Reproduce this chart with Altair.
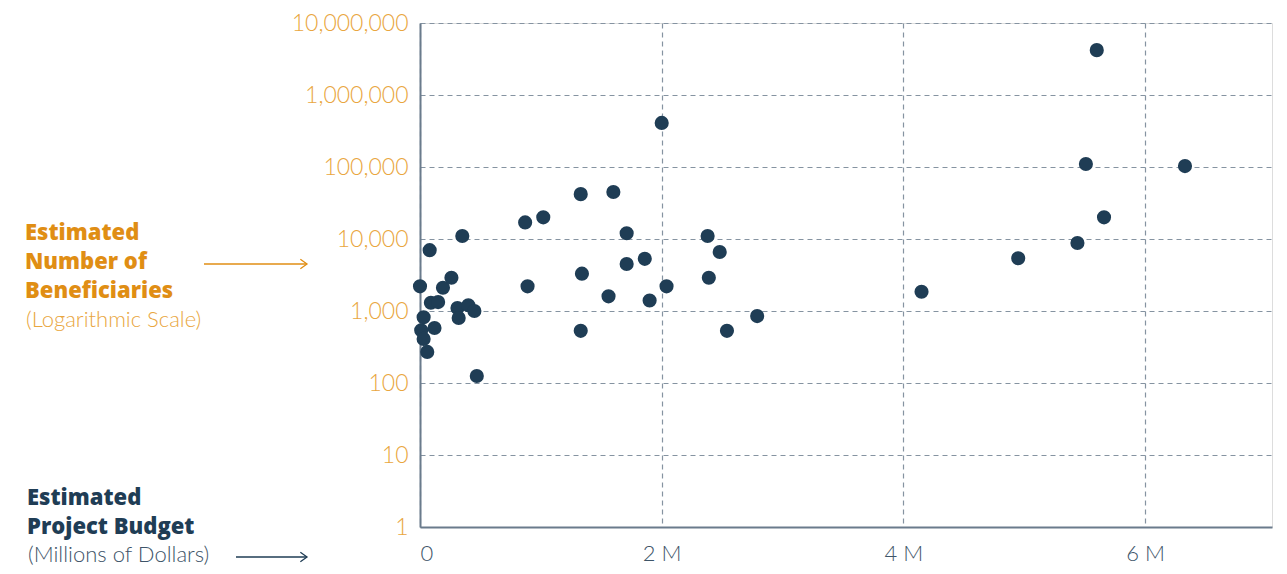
import altair as alt
import pandas as pd

# Estimated project budget (millions of dollars)
budget_m = [
    0.00, 0.08, 0.19, 0.26, 0.35, 0.09, 0.15, 0.31, 0.40, 0.45, 0.32, 0.03,
    0.12, 0.01, 0.03, 0.06, 0.47,
    1.33, 1.60, 0.87, 1.02, 1.71, 2.38, 2.48, 1.71, 1.86, 1.34, 2.39, 0.89,
    2.04, 1.56, 1.90, 2.79, 1.33, 2.54, 2.00,
    5.60, 5.51, 6.33, 5.66, 5.44, 4.95, 4.15,
]
# Estimated number of beneficiaries
beneficiaries = [
    2200, 7000, 2100, 2900, 11000, 1300, 1330, 1100, 1200, 1000, 800, 820,
    580, 540, 410, 270, 125,
    42000, 45000, 17000, 20000, 12000, 11000, 6600, 4500, 5300, 3300, 2900, 2200,
    2200, 1600, 1400, 850, 530, 530, 410000,
    4200000, 110000, 103000, 20000, 8800, 5400, 1850,
]

x_ticks = [0, 2, 4, 6]
y_ticks = [1, 10, 100, 1000, 10000, 100000, 1000000, 10000000]

df = pd.DataFrame({"budget": budget_m, "benef": beneficiaries})

FONT = "Lato"
BOLD_FONT = "Open Sans"
ORANGE = "#E08E14"
ORANGE_LIGHT = "#E9A640"
NAVY = "#1F3D55"
SLATE = "#3E5468"
GRID = "#8593A1"

points = alt.Chart(df).mark_circle(size=200, opacity=1, color=NAVY).encode(
    x=alt.X(
        "budget:Q",
        scale=alt.Scale(domain=[0, 7.05], nice=False, zero=False),
        axis=alt.Axis(
            values=x_ticks,
            title=None,
            ticks=False,
            labelExpr="datum.value == 0 ? '0' : datum.value + ' M'",
            labelFont=FONT,
            labelFontSize=22,
            labelFontWeight=300,
            labelColor=SLATE,
            labelPadding=16,
            domainColor="#6A7B8C",
            domainWidth=2,
            grid=True,
            gridDash=[5, 4],
            gridColor=GRID,
            gridWidth=1.2,
        ),
    ),
    y=alt.Y(
        "benef:Q",
        scale=alt.Scale(type="log", domain=[1, 10000000], nice=False),
        axis=alt.Axis(
            values=y_ticks,
            format=",",
            title=None,
            ticks=False,
            labelFont=FONT,
            labelFontSize=23,
            labelFontWeight=300,
            labelColor=ORANGE_LIGHT,
            labelPadding=12,
            domainColor="#6A7B8C",
            domainWidth=2,
            grid=True,
            gridDash=[5, 4],
            gridColor=GRID,
            gridWidth=1.2,
        ),
    ),
)

OX, OY = 420, 23  # plot origin in page coordinates


def label(text, px, py, color, size, weight, font):
    return alt.Chart(alt.Data(values=[{"t": text}])).mark_text(
        align="left", baseline="middle", font=font, fontSize=size,
        fontWeight=weight, color=color,
    ).encode(text="t:N", x=alt.value(px - OX), y=alt.value(py - OY))


def arrow(x1, x2, py, color):
    line = alt.Chart(alt.Data(values=[{"a": 1}])).mark_rule(
        color=color, strokeWidth=1.3
    ).encode(x=alt.value(x1 - OX), x2=alt.value(x2 - OX), y=alt.value(py - OY))
    head = alt.Chart(alt.Data(values=[{"a": 1}])).mark_point(
        shape="M-1.4,-1L0,0L-1.4,1", filled=False, size=90, color=color,
        strokeWidth=1.3, opacity=1,
    ).encode(x=alt.value(x2 - OX), y=alt.value(py - OY))
    return [line, head]


layers = [points]
layers += [
    label("Estimated", 25, 233, ORANGE, 22, 800, BOLD_FONT),
    label("Number of", 25, 262, ORANGE, 22, 800, BOLD_FONT),
    label("Beneficiaries", 25, 291, ORANGE, 22, 800, BOLD_FONT),
    label("(Logarithmic Scale)", 26, 320, ORANGE_LIGHT, 22, 300, FONT),
    label("Estimated", 27, 498, NAVY, 22, 800, BOLD_FONT),
    label("Project Budget", 27, 527, NAVY, 22, 800, BOLD_FONT),
    label("(Millions of Dollars)", 28, 555, SLATE, 22, 300, FONT),
]
layers += arrow(204, 307, 264, ORANGE)
layers += arrow(236, 307, 557, NAVY)

chart = alt.layer(*layers).properties(
    width=852,
    height=504,
    autosize=alt.AutoSizeParams(type="none"),
    padding={"left": 412, "top": 15, "right": 7, "bottom": 39},
).configure_view(stroke=None).configure(background="white")

chart.save("out.html", embed_options={"renderer": "svg", "actions": False})
